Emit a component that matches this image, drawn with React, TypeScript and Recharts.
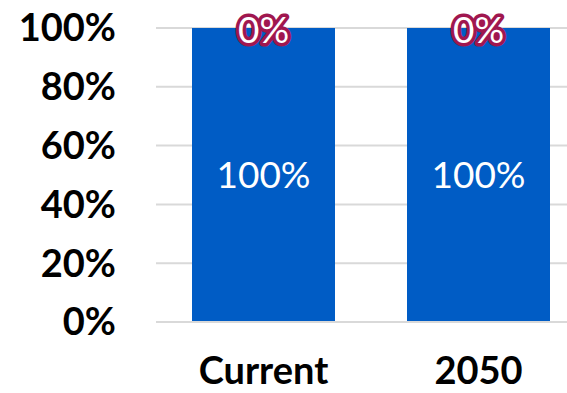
import { BarChart, Bar, XAxis, YAxis, CartesianGrid, LabelList } from "recharts"

const categories = ["Current", "2050"]
const mainShare = [100, 100]
const otherShare = [0, 0]
const yTicks = [0, 20, 40, 60, 80, 100]

const data = categories.map((name, i) => ({
  name,
  main: mainShare[i],
  other: otherShare[i],
}))

const font = "Lato, 'Open Sans', sans-serif"

// the zero-height segment sits on top of the blue bar, so label it there
const GlowLabel = (props: any) => {
  const { x, y, width, value } = props
  return (
    <text
      x={x + width / 2}
      y={y + 2}
      dy="0.355em"
      textAnchor="middle"
      fill="#ffffff"
      stroke="#a0174f"
      strokeWidth={7}
      strokeLinejoin="round"
      paintOrder="stroke"
      fontFamily={font}
      fontSize={37}
    >
      {value}%
    </text>
  )
}

export default function App() {
  return (
    <div style={{ position: "fixed", left: 0, top: 0, width: 567, height: 393, overflow: "hidden", background: "#fff" }}>
      <BarChart
        width={600}
        height={393}
        data={data}
        margin={{ top: 28, right: 14, bottom: 0, left: 0 }}
        barSize={143}
      >
        <CartesianGrid vertical={false} stroke="#d9d9d9" strokeWidth={2} />
        <XAxis
          dataKey="name"
          height={71}
          tickLine={false}
          tickSize={0}
          tickMargin={35}
          axisLine={{ stroke: "#d9d9d9", strokeWidth: 2 }}
          tick={{ fill: "#000", fontSize: 38, fontWeight: 700, fontFamily: font }}
        />
        <YAxis
          width={156}
          domain={[0, 100]}
          ticks={yTicks}
          tickFormatter={(v) => `${v}%`}
          axisLine={false}
          tickLine={false}
          tickSize={0}
          tickMargin={40}
          tick={{ fill: "#000", fontSize: 38, fontWeight: 700, fontFamily: font }}
        />
        <Bar dataKey="main" stackId="s" fill="#005cc5" isAnimationActive={false}>
          <LabelList
            dataKey="main"
            position="center"
            formatter={(v: any) => `${v}%`}
            fill="#ffffff"
            fontSize={37}
            fontFamily={font}
          />
          <LabelList dataKey="other" content={<GlowLabel />} />
        </Bar>
        <Bar dataKey="other" stackId="s" fill="#a0174f" isAnimationActive={false} />
      </BarChart>
    </div>
  )
}
